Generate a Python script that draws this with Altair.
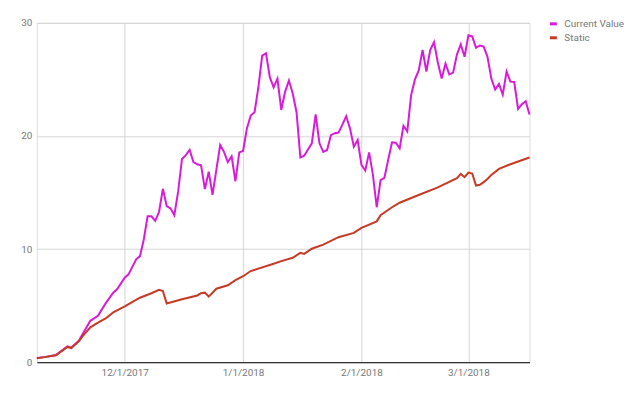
import altair as alt
import pandas as pd

cv_dates = [
    "2017-11-08", "2017-11-10", "2017-11-13", "2017-11-16", "2017-11-17", "2017-11-19", "2017-11-20",
    "2017-11-22", "2017-11-24", "2017-11-26", "2017-11-28", "2017-11-29", "2017-12-01", "2017-12-02",
    "2017-12-04", "2017-12-05", "2017-12-06", "2017-12-07", "2017-12-08", "2017-12-09", "2017-12-10",
    "2017-12-11", "2017-12-12", "2017-12-13", "2017-12-14", "2017-12-15", "2017-12-16", "2017-12-17",
    "2017-12-18", "2017-12-19", "2017-12-20", "2017-12-21", "2017-12-22", "2017-12-23", "2017-12-24",
    "2017-12-25", "2017-12-26", "2017-12-27", "2017-12-28", "2017-12-29", "2017-12-30", "2017-12-31",
    "2018-01-01", "2018-01-02", "2018-01-03", "2018-01-04", "2018-01-05", "2018-01-06", "2018-01-07",
    "2018-01-08", "2018-01-09", "2018-01-10", "2018-01-11", "2018-01-12", "2018-01-13", "2018-01-14",
    "2018-01-15", "2018-01-16", "2018-01-17", "2018-01-18", "2018-01-19", "2018-01-20", "2018-01-21",
    "2018-01-22", "2018-01-23", "2018-01-24", "2018-01-25", "2018-01-26", "2018-01-27", "2018-01-28",
    "2018-01-29", "2018-01-30", "2018-01-31", "2018-02-01", "2018-02-02", "2018-02-03", "2018-02-04",
    "2018-02-05", "2018-02-06", "2018-02-07", "2018-02-08", "2018-02-09", "2018-02-10", "2018-02-11",
    "2018-02-12", "2018-02-13", "2018-02-14", "2018-02-15", "2018-02-16", "2018-02-17", "2018-02-18",
    "2018-02-19", "2018-02-20", "2018-02-21", "2018-02-22", "2018-02-23", "2018-02-24", "2018-02-25",
    "2018-02-26", "2018-02-27", "2018-02-28", "2018-03-01", "2018-03-02", "2018-03-03", "2018-03-04",
    "2018-03-05", "2018-03-06", "2018-03-07", "2018-03-08", "2018-03-09", "2018-03-10", "2018-03-11",
    "2018-03-12", "2018-03-13", "2018-03-14", "2018-03-15", "2018-03-16", "2018-03-17",
]
cv_values = [
    0.38, 0.45, 0.64, 1.4, 1.29, 1.9, 2.5,
    3.66, 4.1, 5.2, 6.15, 6.45, 7.47, 7.77,
    9.1, 9.38, 10.85, 12.9, 12.9, 12.5, 13.3,
    15.33, 13.8, 13.6, 13.0, 15.1, 17.97, 18.3,
    18.76, 17.7, 17.5, 17.4, 15.3, 16.85, 14.8,
    17.0, 19.2, 18.6, 17.7, 18.2, 16.0, 18.55,
    18.67, 20.67, 21.8, 22.1, 24.3, 27.1, 27.3,
    25.2, 24.3, 25.07, 22.3, 23.9, 24.9, 23.75,
    22.1, 18.1, 18.26, 18.8, 19.35, 21.9, 19.35,
    18.6, 18.76, 20.08, 20.25, 20.3, 21.0, 21.75,
    20.67, 19.05, 19.64, 17.44, 16.94, 18.55, 16.56,
    13.7, 16.1, 16.3, 17.9, 19.44, 19.4, 18.9,
    20.9, 20.4, 23.6, 25.0, 25.8, 27.6, 25.7,
    27.6, 28.3, 26.5, 25.07, 26.4, 25.44, 25.6,
    27.2, 28.1, 27.0, 28.9, 28.8, 27.8, 28.0,
    27.9, 27.0, 25.07, 24.1, 24.6, 23.66, 25.7,
    24.8, 24.77, 22.4, 22.8, 23.07, 21.9,
]

st_dates = [
    "2017-11-08", "2017-11-10", "2017-11-13", "2017-11-16", "2017-11-17", "2017-11-19", "2017-11-20",
    "2017-11-22", "2017-11-24", "2017-11-26", "2017-11-28", "2017-12-01", "2017-12-05", "2017-12-08",
    "2017-12-10", "2017-12-11", "2017-12-12", "2017-12-16", "2017-12-20", "2017-12-21", "2017-12-22",
    "2017-12-23", "2017-12-25", "2017-12-28", "2017-12-30", "2018-01-01", "2018-01-03", "2018-01-09",
    "2018-01-11", "2018-01-14", "2018-01-16", "2018-01-17", "2018-01-19", "2018-01-22", "2018-01-26",
    "2018-01-30", "2018-02-01", "2018-02-05", "2018-02-06", "2018-02-09", "2018-02-11", "2018-02-15",
    "2018-02-21", "2018-02-26", "2018-02-27", "2018-02-28", "2018-03-01", "2018-03-02", "2018-03-03",
    "2018-03-04", "2018-03-05", "2018-03-06", "2018-03-07", "2018-03-09", "2018-03-12", "2018-03-17",
]
st_values = [
    0.35, 0.45, 0.62, 1.35, 1.25, 1.85, 2.3,
    3.08, 3.5, 3.87, 4.4, 4.93, 5.7, 6.1,
    6.4, 6.3, 5.19, 5.57, 5.9, 6.1, 6.15,
    5.8, 6.5, 6.8, 7.26, 7.6, 8.06, 8.7,
    8.94, 9.23, 9.67, 9.58, 10.03, 10.4, 11.05,
    11.43, 11.87, 12.45, 13.0, 13.7, 14.1, 14.65,
    15.45, 16.27, 16.65, 16.36, 16.76, 16.68, 15.62,
    15.68, 15.92, 16.2, 16.56, 17.09, 17.5, 18.1,
]

series_names = ["Current Value", "Static"]
series_colors = ["#d81bd8", "#c63a24"]
y_ticks = [0, 10, 20, 30]
x_ticks = ["2017-12-01", "2018-01-01", "2018-02-01", "2018-03-01"]

df = pd.concat([
    pd.DataFrame({"date": cv_dates, "value": cv_values, "series": series_names[0]}),
    pd.DataFrame({"date": st_dates, "value": st_values, "series": series_names[1]}),
])

FONT = "Roboto"

chart = alt.Chart(df).mark_line(strokeWidth=2, interpolate="linear").encode(
    x=alt.X("date:T", title=None,
            scale=alt.Scale(domain=["2017-11-08", "2018-03-17"], nice=False),
            axis=alt.Axis(values=x_ticks, format="%-m/%-d/%Y", labelFont=FONT,
                          labelFontSize=10, labelColor="#777777", ticks=False,
                          domainColor="#333333", domainWidth=1.2, gridColor="#d5d5d5",
                          labelPadding=5, labelFlush=False)),
    y=alt.Y("value:Q", title=None,
            scale=alt.Scale(domain=[0, 30], nice=False),
            axis=alt.Axis(values=y_ticks, labelFont=FONT, labelFontSize=10,
                          labelColor="#777777", ticks=False, domain=False,
                          gridColor="#d5d5d5", labelPadding=5)),
    color=alt.Color("series:N",
                    scale=alt.Scale(domain=series_names, range=series_colors),
                    legend=alt.Legend(title=None, orient="none", legendX=514, legendY=-4,
                                      symbolType="stroke", symbolStrokeWidth=3, symbolSize=49,
                                      labelFont=FONT, labelFontSize=10, labelColor="#777777",
                                      rowPadding=2, labelOffset=6, labelLimit=120)),
).properties(
    width=495, height=341,
    padding={"left": 29, "top": 14, "right": 103, "bottom": 30},
    autosize=alt.AutoSizeParams(type="none"),
).configure_view(stroke=None).configure(background="white")

chart.save("out.html", embed_options={"renderer": "svg", "actions": False})
